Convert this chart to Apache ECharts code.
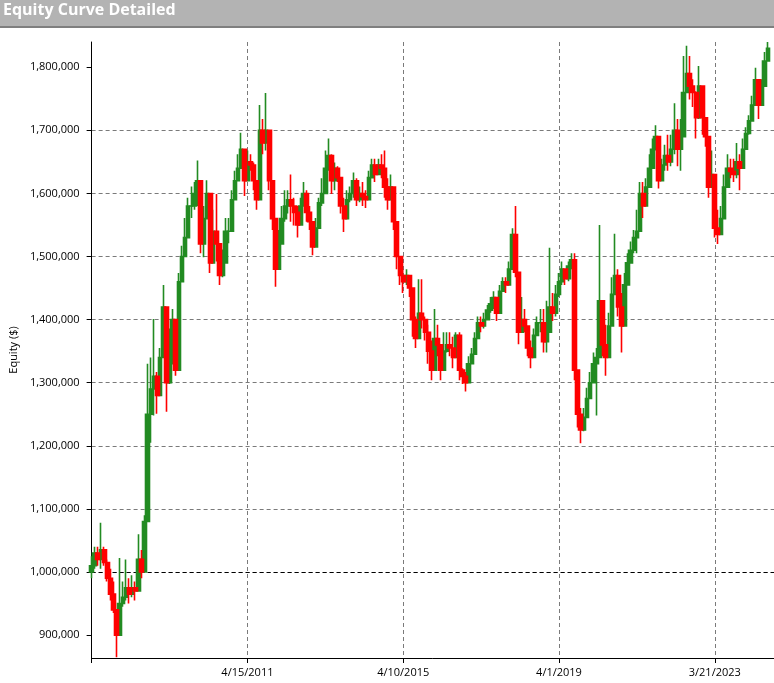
<!DOCTYPE html>
<html>
<head>
<meta charset="utf-8">
<script src="https://cdn.jsdelivr.net/npm/echarts@6/dist/echarts.min.js"></script>
<style>
html,body{margin:0;padding:0;background:#fff;}
#chart{width:774px;height:683px;}
</style>
</head>
<body>
<div id="chart"></div>
<script>
// Equity values in $ thousands, one bar per ~20 trading days
const closes = [1010,1030,1020,1035,1015,990,965,940,900,950,960,975,965,975,970,1020,1000,1080,1250,1290,
1310,1280,1340,1420,1300,1330,1400,1320,1460,1500,1530,1580,1580,1600,1620,1520,1560,1600,1490,1540,
1520,1470,1490,1540,1540,1590,1620,1640,1670,1620,1650,1645,1620,1590,1700,1680,1700,1620,1560,1480,
1520,1560,1580,1590,1580,1570,1550,1580,1600,1570,1555,1515,1545,1585,1600,1640,1660,1620,1640,1625,
1580,1560,1590,1600,1620,1590,1600,1595,1590,1625,1645,1630,1645,1640,1610,1590,1610,1555,1500,1470,
1460,1470,1450,1400,1370,1410,1400,1380,1350,1320,1370,1360,1320,1350,1360,1355,1340,1375,1320,1310,
1300,1330,1345,1370,1395,1390,1400,1415,1425,1435,1410,1445,1460,1455,1480,1535,1475,1380,1400,1390,
1355,1340,1375,1395,1395,1365,1380,1420,1410,1440,1460,1480,1465,1485,1495,1320,1250,1225,1245,1275,
1300,1330,1340,1430,1360,1340,1390,1440,1470,1420,1390,1455,1490,1510,1530,1540,1600,1580,1610,1640,
1670,1690,1620,1645,1660,1650,1670,1700,1670,1690,1760,1790,1770,1760,1720,1770,1720,1690,1610,1630,
1545,1535,1560,1610,1640,1635,1630,1650,1640,1670,1695,1715,1740,1780,1740,1770,1810,1830];
const highs = [1025,1040,1040,1078,1040,1020,1005,985,940,1022,985,1020,990,995,985,1060,1035,1090,1330,1340,
1401,1317,1355,1455,1405,1386,1417,1386,1474,1517,1561,1593,1611,1618,1652,1574,1580,1621,1599,1574,
1599,1517,1511,1561,1561,1605,1636,1662,1696,1668,1668,1662,1649,1618,1740,1718,1759,1668,1605,1530,
1542,1580,1605,1605,1630,1593,1580,1593,1618,1605,1580,1536,1561,1593,1624,1668,1687,1662,1649,1643,
1605,1593,1605,1611,1633,1624,1611,1618,1605,1636,1655,1655,1655,1662,1668,1624,1630,1580,1542,1492,
1480,1480,1467,1436,1405,1464,1464,1405,1392,1367,1417,1392,1355,1380,1380,1380,1373,1380,1380,1323,
1317,1342,1355,1380,1405,1405,1411,1423,1436,1445,1430,1455,1467,1467,1492,1545,1580,1430,1436,1417,
1380,1367,1386,1405,1417,1417,1430,1514,1442,1455,1474,1492,1480,1492,1505,1505,1317,1260,1260,1292,
1317,1348,1355,1550,1405,1392,1411,1467,1536,1480,1442,1474,1505,1524,1542,1574,1618,1618,1624,1662,
1687,1708,1662,1655,1677,1693,1693,1743,1718,1718,1818,1834,1818,1781,1762,1802,1749,1718,1674,1668,
1611,1574,1580,1630,1662,1655,1655,1680,1662,1687,1705,1724,1755,1799,1774,1781,1824,1840];
const lows = [990,1005,1010,1005,1010,985,955,935,865,915,945,955,950,960,955,995,990,1005,1100,1205,
1248,1251,1310,1392,1254,1298,1342,1311,1442,1467,1511,1530,1561,1574,1580,1505,1499,1574,1474,1517,
1492,1455,1467,1517,1521,1555,1593,1624,1655,1596,1630,1636,1605,1574,1655,1662,1668,1605,1542,1452,
1505,1542,1555,1568,1555,1549,1530,1561,1586,1555,1542,1502,1530,1568,1580,1618,1636,1599,1605,1618,
1568,1539,1568,1586,1593,1580,1586,1580,1577,1605,1630,1618,1630,1624,1593,1574,1593,1542,1480,1455,
1442,1455,1436,1373,1355,1392,1386,1367,1330,1304,1342,1342,1304,1330,1348,1342,1323,1367,1304,1298,
1286,1317,1336,1348,1373,1380,1386,1405,1411,1417,1398,1430,1448,1442,1467,1499,1467,1361,1380,1380,
1342,1323,1361,1380,1380,1348,1348,1392,1398,1405,1436,1455,1455,1461,1480,1304,1229,1204,1223,1248,
1279,1304,1248,1405,1342,1311,1342,1405,1442,1405,1348,1436,1455,1492,1505,1505,1568,1561,1593,1618,
1655,1668,1608,1630,1636,1636,1643,1662,1643,1636,1718,1762,1749,1737,1687,1718,1693,1674,1593,1618,
1530,1520,1542,1593,1611,1624,1618,1624,1605,1655,1680,1693,1718,1749,1718,1749,1793,1818];
const startEquity = 1000; // $ thousands
const categoryCount = 220;
const xTickIndices = [0, 50, 100, 150, 200];
const xTickLabels = ['', '4/15/2011', '4/10/2015', '4/1/2019', '3/21/2023'];
const yTicks = [900000,1000000,1100000,1200000,1300000,1400000,1500000,1600000,1700000,1800000];
const yMin = 863700, yMax = 1840000;

const categories = [];
for (let i = 0; i < categoryCount; i++) {
  const k = xTickIndices.indexOf(i);
  categories.push(k >= 0 ? xTickLabels[k] : String(i));
}
const ohlc = closes.map((c, i) => {
  const o = i === 0 ? startEquity : closes[i - 1];
  return [o * 1000, c * 1000, lows[i] * 1000, highs[i] * 1000];
});
// split into rising and falling bars; falling bars are drawn on top
const upBars = ohlc.map(d => (d[1] >= d[0] ? d : '-'));
const downBars = ohlc.map(d => (d[1] < d[0] ? d : '-'));

const FONT = 'Open Sans';
const GREEN = '#228b22', RED = '#ff0000';
const barStyle = (col) => ({color: col, color0: col, borderColor: col, borderColor0: col, borderWidth: 1.6});
const chart = echarts.init(document.getElementById('chart'), null, {renderer: 'canvas'});
chart.setOption({
  animation: false,
  backgroundColor: '#ffffff',
  graphic: [
    {type: 'rect', left: 0, top: 0, shape: {width: 774, height: 27}, style: {fill: '#b3b3b3'}, z: 0},
    {type: 'rect', left: 0, top: 26, shape: {width: 774, height: 2}, style: {fill: '#7f7f7f'}, z: 0}
  ],
  title: {
    text: 'Equity Curve Detailed',
    left: 3, top: 2, padding: 0,
    textStyle: {color: '#ffffff', fontFamily: FONT, fontWeight: 'bold', fontSize: 16}
  },
  grid: {left: 90, right: 0, top: 42, bottom: 25, containLabel: false},
  xAxis: {
    type: 'category',
    data: categories,
    boundaryGap: false,
    axisLine: {lineStyle: {color: '#000', width: 1}},
    axisTick: {show: true, length: 5, interval: (idx) => xTickIndices.indexOf(idx) >= 0, lineStyle: {color: '#000'}},
    axisLabel: {
      interval: (idx) => xTickIndices.indexOf(idx) >= 0,
      formatter: (v, idx) => { const k = xTickIndices.indexOf(idx); return k >= 0 ? xTickLabels[k] : ''; },
      color: '#000', fontFamily: FONT, fontSize: 11, margin: 9
    },
    splitLine: {show: true, interval: (idx) => xTickIndices.indexOf(idx) >= 0,
      lineStyle: {color: '#7a7a7a', type: [4, 3], width: 1}}
  },
  yAxis: {
    type: 'value',
    min: yMin, max: yMax,
    splitNumber: 10,
    name: 'Equity ($)',
    nameLocation: 'middle',
    nameGap: 68,
    nameRotate: 90,
    nameTextStyle: {color: '#000', fontFamily: FONT, fontSize: 11},
    axisLine: {show: true, lineStyle: {color: '#000', width: 1}},
    axisTick: {show: true, length: 5, customValues: yTicks, lineStyle: {color: '#000'}},
    axisLabel: {
      customValues: yTicks,
      formatter: (v) => Math.round(v).toLocaleString('en-US'),
      color: '#000', fontFamily: FONT, fontSize: 11, margin: 12
    },
    splitLine: {show: true, showMinLine: false, showMaxLine: false,
      lineStyle: {color: '#7a7a7a', type: [4, 3], width: 1}}
  },
  series: [{
    type: 'candlestick',
    name: 'Up',
    data: upBars,
    barWidth: 4,
    z: 2,
    itemStyle: barStyle(GREEN),
    markLine: {
      silent: true,
      symbol: ['none', 'none'],
      label: {show: false},
      lineStyle: {color: '#000', type: [4, 3], width: 1},
      data: [{yAxis: 1000000}],
      z: 1
    }
  }, {
    type: 'candlestick',
    name: 'Down',
    data: downBars,
    barWidth: 4.5,
    z: 3,
    itemStyle: barStyle(RED)
  }]
});
</script>
</body>
</html>
